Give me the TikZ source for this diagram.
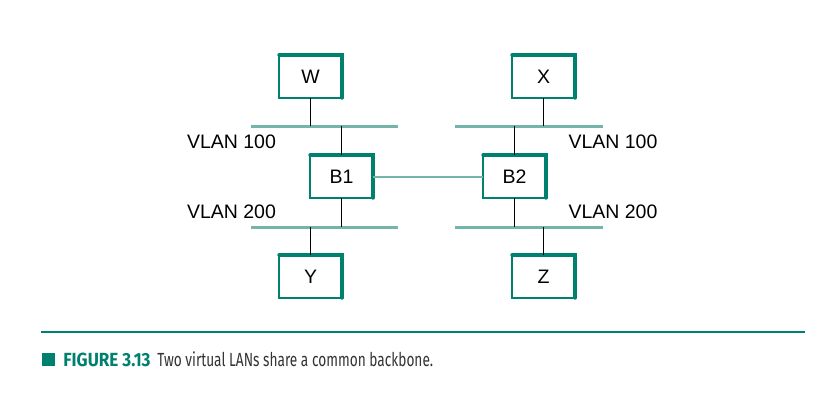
\documentclass[tikz,border=0pt]{standalone}
\usepackage{fontspec}
\setmainfont{Liberation Sans}
\newfontfamily\capfont[FakeStretch=0.72]{Fira Sans}
\newfontfamily\capbold[FakeStretch=0.9]{Fira Sans Bold}
\definecolor{boxteal}{HTML}{00806F}
\definecolor{busteal}{HTML}{74B4AA}
\definecolor{captext}{HTML}{333333}
\begin{document}
\begin{tikzpicture}[x=1pt,y=-1pt,thick]
\useasboundingbox (0,0) rectangle (840,418);
\tikzstyle{every node} = [minimum width=62pt, minimum height=42pt, inner sep=0pt, font=\fontsize{19.5}{23}\selectfont]
\node (W) at (310.5,76.5) {W};
\node (X) at (543.5,76.5) {X};
\node (B1) at (341.5,176.5) {B1};
\node (B2) at (514.5,176.5) {B2};
\node (Y) at (310.5,276.5) {Y};
\node (Z) at (543.5,276.5) {Z};
\tikzstyle{every node} = [font=\fontsize{19.5}{23}\selectfont]
% box outline with heavy top and right edges
\foreach \n in {W,X,B1,B2,Y,Z} {
  \draw[boxteal, line width=1.8pt] (\n.north west) rectangle (\n.south east);
  \draw[boxteal, line width=3.6pt, line cap=round] (\n.north west) -- (\n.north east) -- (\n.south east);
}
% the four LAN segments
\coordinate (L1a) at (251,126);
\coordinate (L1b) at (398,126);
\coordinate (R1a) at (455,126);
\coordinate (R1b) at (603,126);
\coordinate (L2a) at (251,227);
\coordinate (L2b) at (398,227);
\coordinate (R2a) at (455,227);
\coordinate (R2b) at (603,227);
\draw[busteal, line width=3pt] (L1a) -- (L1b);
\draw[busteal, line width=3pt] (R1a) -- (R1b);
\draw[busteal, line width=3pt] (L2a) -- (L2b);
\draw[busteal, line width=3pt] (R2a) -- (R2b);
\draw[line width=1.2pt] (W.south) -- (W.south |- L1a);
\draw[line width=1.2pt] (X.south) -- (X.south |- R1a);
\draw[line width=1.2pt] (B1.north) -- (B1.north |- L1a);
\draw[line width=1.2pt] (B2.north) -- (B2.north |- R1a);
\draw[line width=1.2pt] (B1.south) -- (B1.south |- L2a);
\draw[line width=1.2pt] (B2.south) -- (B2.south |- R2a);
\draw[line width=1.2pt] (Y.north) -- (Y.north |- L2a);
\draw[line width=1.2pt] (Z.north) -- (Z.north |- R2a);
\draw[busteal, line width=2pt] (B1) -- (B2);
\node (v1) at (231.5,141.5) {VLAN 100};
\node (v2) at (231.5,212) {VLAN 200};
\node (v3) at (613,141.5) {VLAN 100};
\node (v4) at (613,212) {VLAN 200};
% caption
\coordinate (c1) at (41,332);
\coordinate (c2) at (805,332);
\draw[boxteal, line width=1.4pt] (c1) -- (c2);
\fill[boxteal] (42,353) rectangle (55,366);
\node[anchor=base west, inner sep=0pt, font=\capbold\fontsize{19}{22}\selectfont, text=boxteal] (fig) at (63,366) {FIGURE 3.13};
\node[anchor=base west, inner sep=0pt, font=\capfont\fontsize{19}{22}\selectfont, text=captext] (cap) at (157,366) {Two virtual LANs share a common backbone.};
\end{tikzpicture}
\end{document}
